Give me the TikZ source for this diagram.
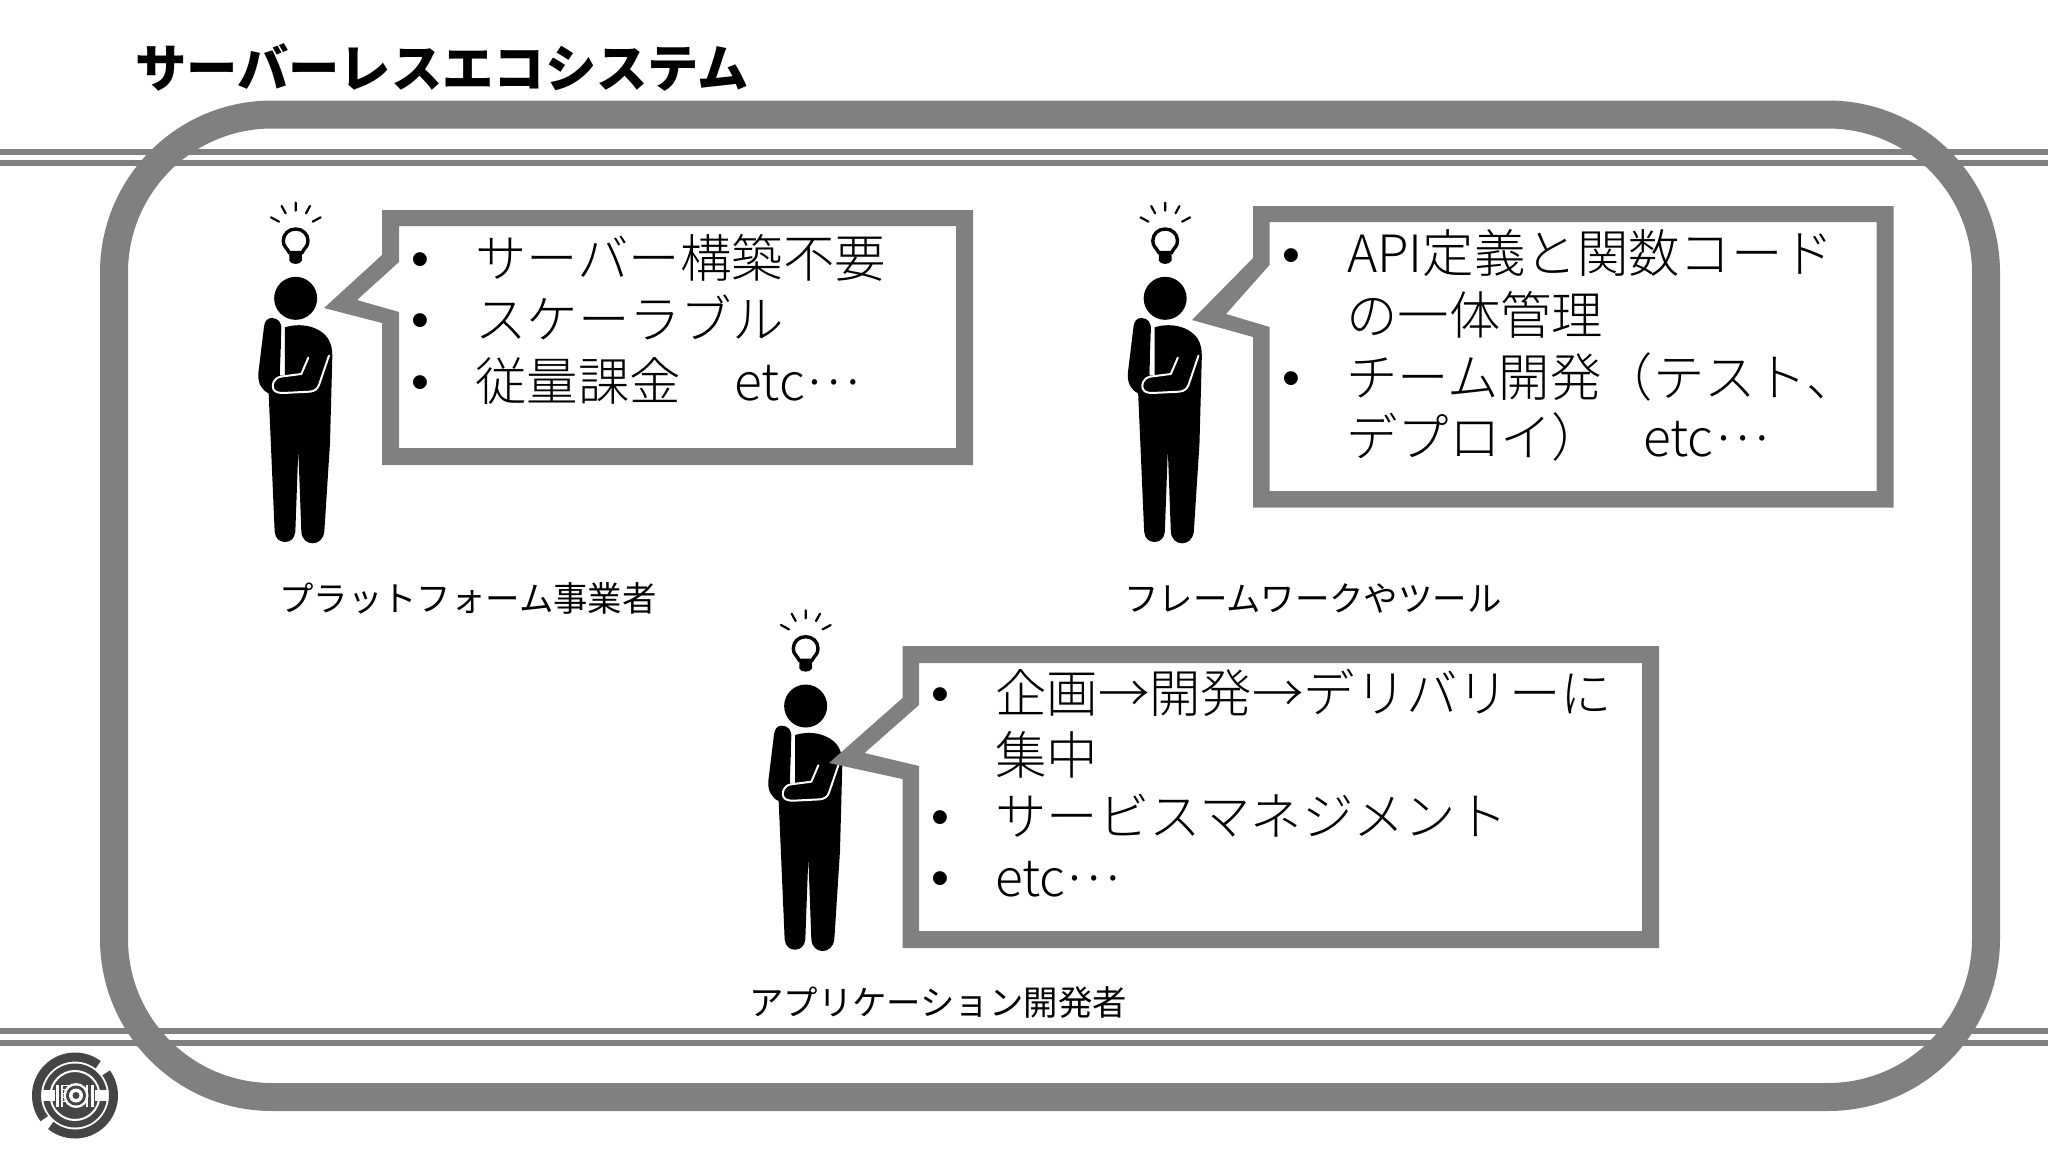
\documentclass[tikz,border=0pt]{standalone}
\usepackage{fontspec}
\setmainfont{Noto Sans CJK JP}
\newfontfamily\lightjp{Noto Sans CJK JP Light}
\newfontfamily\blackjp{Noto Sans CJK JP Black}
\newfontfamily\bulletfont{Liberation Sans}
\definecolor{framegray}{gray}{0.5}
\definecolor{logogray}{gray}{0.27}
\newcommand{\midell}{\hspace{0.03em}\raisebox{0.3em}{…}}
\tikzset{
  body/.style={anchor=base west,inner sep=0pt,font=\fontsize{51.4}{60}\selectfont\lightjp},
  bul/.style={anchor=base,inner sep=0pt,font=\fontsize{51}{60}\selectfont\bulletfont},
  who/.style={anchor=base west,inner sep=0pt,font=\fontsize{34.4}{40}\selectfont},
  rail/.style={draw=framegray,line width=6pt},
  callout/.style={fill=framegray,even odd rule},
  thinker/.pic={
    \begin{scope}[x=0.3333pt,y=-0.3333pt]
      \fill[black] (197,325) circle[radius=21.5pt];
      \fill[black] (125,384) .. controls (145,384) and (156,398) .. (154,420)
        -- (150,550) -- (165,560) -- (165,412)
        .. controls (190,404) and (225,402) .. (255,415)
        .. controls (290,430) and (308,455) .. (307,500)
        -- (300,760) -- (283,1025)
        .. controls (280,1048) and (265,1060) .. (248,1060)
        .. controls (230,1060) and (216,1048) .. (214,1025)
        -- (205,780) -- (196,1025)
        .. controls (194,1045) and (182,1056) .. (165,1056)
        .. controls (148,1056) and (136,1045) .. (134,1025)
        -- (116,610)
        .. controls (95,600) and (83,580) .. (85,550)
        -- (102,410)
        .. controls (104,394) and (112,384) .. (125,384) -- cycle;
      \draw[white,line width=2pt,line cap=round,line join=round]
        (235,503) -- (214,552) -- (152,560)
        .. controls (130,565) and (125,585) .. (130,597)
        .. controls (135,608) and (150,609) .. (160,609)
        -- (240,605) .. controls (255,603) and (262,597) .. (267,585) -- (297,497);
      \draw[white,line width=2.4pt] (159,408) -- (154,556);
      \draw[black,line width=3.4pt] (178,188)
        .. controls (170,172) and (160,170) .. (160,152)
        .. controls (160,132) and (176,117) .. (197,117)
        .. controls (218,117) and (234,132) .. (234,152)
        .. controls (234,170) and (224,172) .. (216,188) -- cycle;
      \fill[black] (178,190) -- (216,190) -- (216,212)
        .. controls (212,225) and (182,225) .. (178,212) -- cycle;
      \draw[black,line width=2.2pt,line cap=round]
        (197,38) -- (197,62) (155,48) -- (167,70) (240,48) -- (228,70)
        (123,82) -- (147,95) (272,82) -- (248,95);
    \end{scope}
  }
}
\begin{document}
\begin{tikzpicture}[x=1pt,y=-1pt]
\useasboundingbox (0,0) rectangle (2048,1152);
% background rails
\coordinate (railAl) at (0,152); \coordinate (railAr) at (2048,152);
\coordinate (railBl) at (0,163); \coordinate (railBr) at (2048,163);
\coordinate (railCl) at (0,1031); \coordinate (railCr) at (2048,1031);
\coordinate (railDl) at (0,1043); \coordinate (railDr) at (2048,1043);
\draw[rail] (railAl) -- (railAr);
\draw[rail] (railBl) -- (railBr);
\draw[rail] (railCl) -- (railCr);
\draw[rail] (railDl) -- (railDr);
% outer ring
\draw[framegray,line width=28pt,rounded corners=158pt] (114,114.5) rectangle (1986,1097);
% title
\node[anchor=base west,inner sep=0pt,font=\fontsize{51.3}{60}\selectfont\blackjp] (title) at (135,87) {サーバーレスエコシステム};
% people
\pic at (230,190) {thinker};
\pic at (1099.5,190) {thinker};
\pic at (740,597.7) {thinker};
% callouts
\fill[callout]
  (382,210) -- (973,210) -- (973,465) -- (382,465) -- (382,323) -- (324,308) -- (382,255) -- cycle
  (399,226) -- (956,226) -- (956,448) -- (399,448) -- (399,312) -- (357,300) -- (399,262) -- cycle;
\fill[callout]
  (1253,206) -- (1893.5,206) -- (1893.5,507.5) -- (1253,507.5) -- (1253,337) -- (1192,320) -- (1253,258) -- cycle
  (1269.5,222) -- (1876.5,222) -- (1876.5,491) -- (1269.5,491) -- (1269.5,327) -- (1226,314) -- (1269.5,265) -- cycle;
\fill[callout]
  (902.5,646) -- (1659,646) -- (1659,948) -- (902.5,948) -- (902.5,779) -- (829,763) -- (902.5,698) -- cycle
  (919,663) -- (1642,663) -- (1642,931) -- (919,931) -- (919,766) -- (864.5,753) -- (919,705) -- cycle;
% box 1 text
\node[bul] (ba1) at (420,276) {•};
\node[bul] (ba2) at (420,337) {•};
\node[bul] (ba3) at (420,399) {•};
\node[body] (ta1) at (475,277) {サーバー構築不要};
\node[body] (ta2) at (475,338) {スケーラブル};
\node[body] (ta3) at (475,400) {従量課金\hspace{1.05em}etc\midell};
% box 2 text
\node[bul] (bb1) at (1291,272) {•};
\node[bul] (bb2) at (1291,395) {•};
\node[body] (tb1) at (1347,272) {API定義と関数コード};
\node[body] (tb2) at (1346,334) {の一体管理};
\node[body] (tb3) at (1346,396) {チーム開発（テスト、};
\node[body] (tb4) at (1346,456) {デプロイ）\hspace{0.78em}etc\midell};
% box 3 text
\node[bul] (bc1) at (940.5,711) {•};
\node[bul] (bc2) at (940.5,834) {•};
\node[bul] (bc3) at (940.5,895) {•};
\node[body] (tc1) at (995,712) {企画→開発→デリバリーに};
\node[body] (tc2) at (995,774) {集中};
\node[body] (tc3) at (995,835) {サービスマネジメント};
\node[body] (tc4) at (995,896) {etc\midell};
% labels
\node[who] (la) at (279,611) {プラットフォーム事業者};
\node[who] (lb) at (1124,611) {フレームワークやツール};
\node[who] (lc) at (749,1015) {アプリケーション開発者};
% logo
\begin{scope}[shift={(75,1095.5)},y=1pt]
  \draw[logogray,line width=9pt] (53:38.5pt) arc[start angle=53,end angle=217,radius=38.5pt];
  \draw[logogray,line width=9pt] (231:38.5pt) arc[start angle=231,end angle=396,radius=38.5pt];
  \fill[logogray] (0,0) circle[radius=32pt];
  \draw[white,line width=2pt] (0,0) circle[radius=24.5pt];
  \fill[white] (-33,-5.5) rectangle (-20,5.5);
  \fill[white] (20,-5.5) rectangle (33,5.5);
  \fill[white] (-19,-11) rectangle (-16,11);
  \fill[white] (15.5,-11) rectangle (19,11);
  \fill[white] (-14,-11) rectangle (-12,11);
  \foreach \yy in {-6,-2,2,6,10}{\fill[white] (-14,\yy-0.7) rectangle (-6,\yy+0.7);}
  \fill[white] (1,0) circle[radius=12.5pt];
  \fill[logogray] (1,0) circle[radius=10pt];
  \fill[white] (1,0) circle[radius=7pt];
  \fill[logogray] (1,0) circle[radius=3.5pt];
  \fill[white] (11,-11) rectangle (13,11);
\end{scope}
\end{tikzpicture}
\end{document}
